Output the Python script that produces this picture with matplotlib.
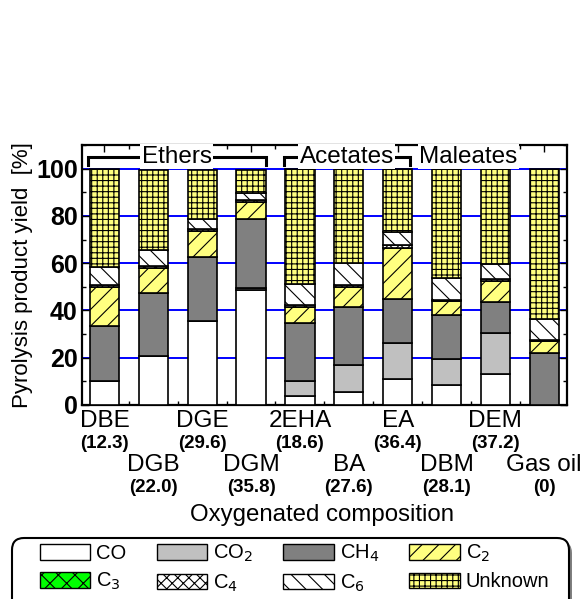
"""Stacked pyrolysis product yield by oxygenated composition."""
import matplotlib
matplotlib.use('Agg')
import matplotlib.pyplot as plt
import numpy as np
from matplotlib.patches import Patch, FancyBboxPatch
from matplotlib.ticker import MultipleLocator
import matplotlib.transforms as mtransforms

plt.rcParams['font.family'] = ['Liberation Sans', 'DejaVu Sans']
plt.rcParams['hatch.linewidth'] = 0.8

# Data
names = ['DBE', 'DGB', 'DGE', 'DGM', '2EHA', 'BA', 'EA', 'DBM', 'DEM', 'Gas oil']
oxy = ['(12.3)', '(22.0)', '(29.6)', '(35.8)', '(18.6)', '(27.6)', '(36.4)', '(28.1)', '(37.2)', '(0)']

co = [10.3, 20.7, 35.5, 48.8, 3.8, 5.6, 10.9, 8.5, 13.0, 0.0]
co2 = [0.0, 0.0, 0.0, 0.8, 6.5, 11.5, 15.3, 11.0, 17.3, 0.0]
ch4 = [23.1, 26.6, 27.0, 29.0, 24.5, 24.5, 18.5, 18.7, 13.4, 21.9]
c2 = [16.4, 10.7, 11.0, 7.4, 6.7, 8.5, 21.8, 5.6, 8.6, 5.0]
c3 = [0.0, 0.0, 0.0, 0.0, 0.0, 0.0, 0.0, 0.0, 0.0, 0.0]
c4 = [0.8, 0.8, 0.8, 0.8, 0.8, 0.8, 1.0, 0.8, 0.8, 0.8]
c6 = [7.9, 6.7, 4.6, 2.7, 8.7, 9.1, 5.8, 9.1, 6.5, 8.6]
unknown = [41.5, 34.0, 20.6, 10.0, 49.0, 40.0, 26.5, 46.3, 40.4, 63.7]

species = ['CO', 'CO$_2$', 'CH$_4$', 'C$_2$', 'C$_3$', 'C$_4$', 'C$_6$', 'Unknown']
series = [co, co2, ch4, c2, c3, c4, c6, unknown]
colors = ['white', '#c0c0c0', '#808080', '#ffff80', '#00ff00', 'white', 'white', '#ffff80']
hatches = [None, None, None, '//', 'xx', 'xxx', '\\\\', '+++']

groups = [('Ethers', -0.34, 3.30), ('Acetates', 3.67, 6.25)]

W, H = 584, 599


def main():
    fig = plt.figure(figsize=(W / 100, H / 100), dpi=100)
    ax = fig.add_axes([0.1404, 0.3239, 0.8300, 0.4340])

    x = np.arange(len(names))
    bottom = np.zeros(len(names))
    for vals, col, h in zip(series, colors, hatches):
        vals = np.array(vals)
        ax.bar(x, vals, width=0.6, bottom=bottom, color=col, hatch=h,
               edgecolor='black', linewidth=1.2, zorder=3)
        bottom += vals

    ax.set_xlim(-0.46, 9.46)
    ax.set_ylim(0, 110)
    ax.set_yticks([0, 20, 40, 60, 80, 100])
    ax.yaxis.set_minor_locator(MultipleLocator(10))
    ax.set_xticks(x)
    ax.set_xticklabels([])
    ax.xaxis.set_minor_locator(MultipleLocator(0.5))
    ax.tick_params(which='both', direction='in', top=True, right=True,
                   width=1.0, labelsize=18, pad=3)
    ax.tick_params(which='major', length=5)
    ax.tick_params(which='minor', length=3)
    for lab in ax.get_yticklabels():
        lab.set_fontweight('bold')
    for s in ax.spines.values():
        s.set_linewidth(1.6)
    for gy in [20, 40, 60, 80, 100]:
        ax.axhline(gy, color='#0000ff', linewidth=1.4, zorder=1)

    ax.set_ylabel('Pyrolysis product yield  [%]', fontsize=16, labelpad=2)

    # Staggered category labels
    trans = mtransforms.blended_transform_factory(ax.transData, fig.transFigure)
    for i, (nm, ox) in enumerate(zip(names, oxy)):
        y0 = 1 - 421 / H if i % 2 == 0 else 1 - 465 / H
        ax.text(i, y0, nm, transform=trans, ha='center', va='center', fontsize=17.5)
        ax.text(i, y0 - 22 / H, ox, transform=trans, ha='center', va='center',
                fontsize=13.5, fontweight='bold')
    fig.text(322 / W, 1 - 515 / H, 'Oxygenated composition', ha='center',
             va='center', fontsize=17.3)

    # Group brackets
    yb, yt = 101.6, 105
    for label, x0, x1 in groups:
        ax.plot([x0, x0, x1, x1], [yb, yt, yt, yb], color='black', lw=2.2,
                zorder=4, clip_on=False, solid_joinstyle='miter')
        ax.text((x0 + x1) / 2, yt, label, ha='center', va='center', fontsize=17.5,
                zorder=5, bbox=dict(facecolor='white', edgecolor='none', pad=1))
    ax.text(7.45, yt, 'Maleates', ha='center', va='center', fontsize=17.5, zorder=5,
            bbox=dict(facecolor='white', edgecolor='none', pad=1))

    # Legend frame (rounded, with shadow, runs past the bottom edge)
    bx0, bx1, by_top = 12, 569, 538
    for dx, dy, fc, ec in [(3, 3, '#808080', 'none'), (0, 0, 'white', 'black')]:
        box = FancyBboxPatch(((bx0 + 10 + dx) / W, -0.05 - dy / H),
                             (bx1 - bx0 - 20) / W, (H - by_top - 10) / H + 0.05,
                             boxstyle='round,pad=0.0,rounding_size=0.018',
                             transform=fig.transFigure, facecolor=fc, edgecolor=ec,
                             linewidth=1.5, mutation_aspect=W / H)
        box.set_boxstyle('round', pad=10 / W, rounding_size=12 / W)
        fig.add_artist(box)

    handles = [Patch(facecolor=c, edgecolor='black', hatch=h, linewidth=1.0)
               for c, h in zip(colors, hatches)]
    order = [0, 4, 1, 5, 2, 6, 3, 7]
    fig.legend([handles[i] for i in order], [species[i] for i in order],
               ncol=4, loc='upper left', bbox_to_anchor=(40 / W, 1 - 543 / H),
               fontsize=14.5, frameon=False,
               handlelength=2.5, handleheight=0.8, handletextpad=0.3,
               columnspacing=1.5, labelspacing=0.4, borderpad=0.0,
               borderaxespad=0.0)

    fig.savefig('out.png', dpi=100)
    plt.close()


if __name__ == '__main__':
    main()
